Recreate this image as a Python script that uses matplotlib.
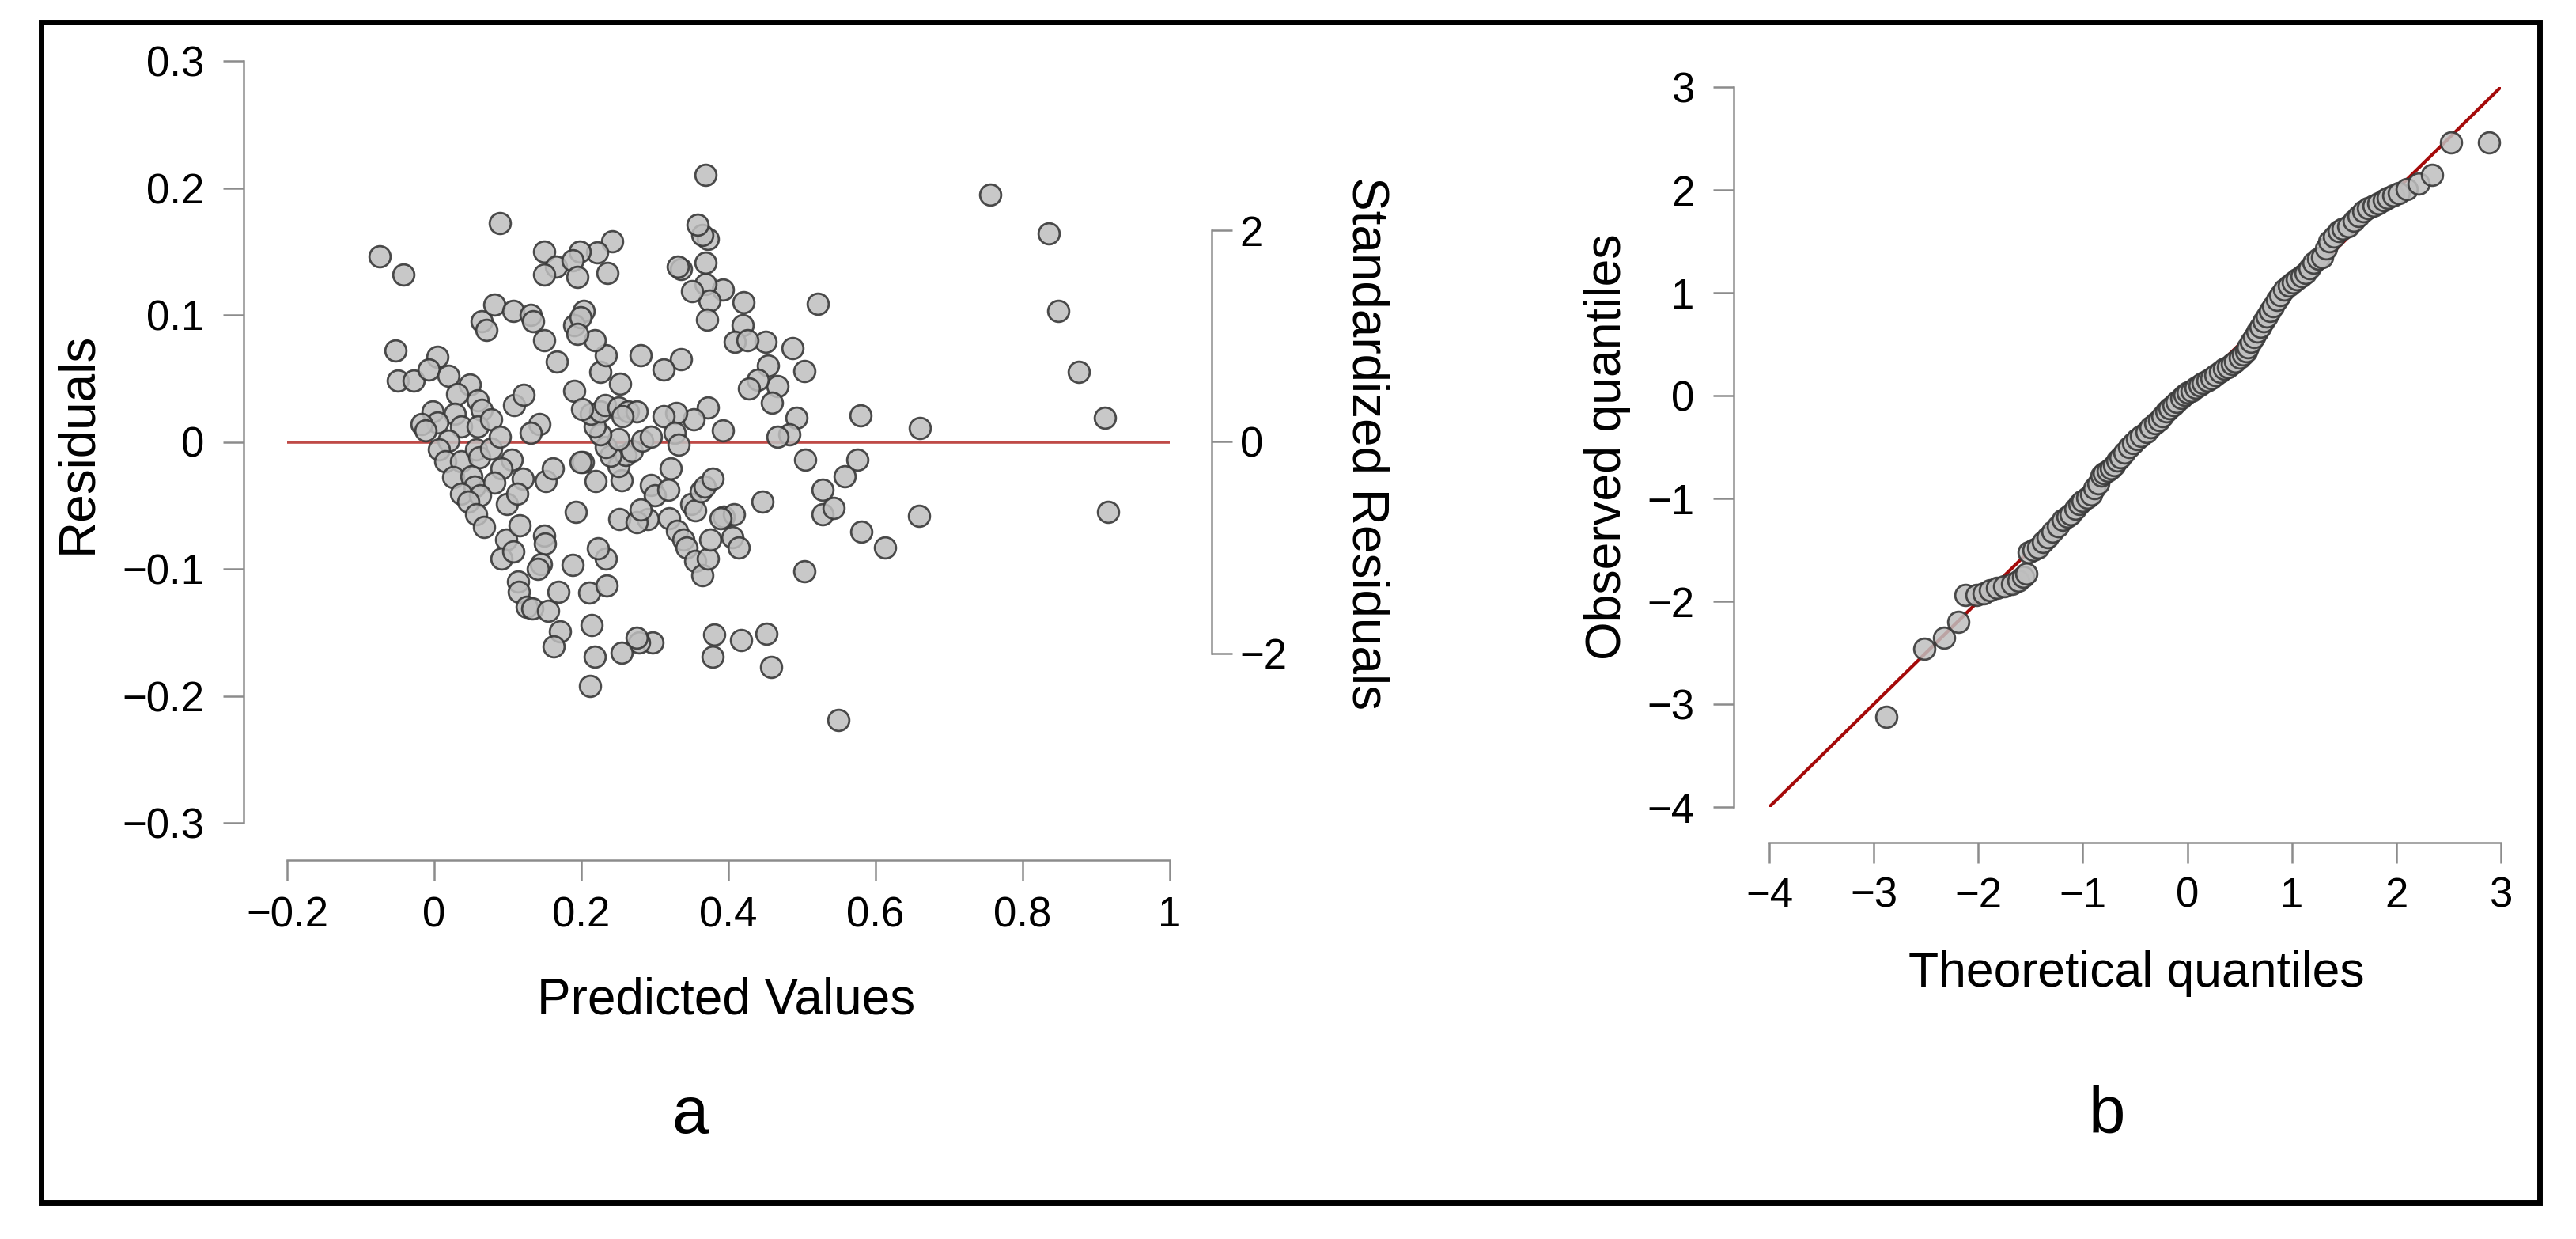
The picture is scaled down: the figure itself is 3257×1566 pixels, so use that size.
import matplotlib
matplotlib.use("Agg")
import matplotlib.pyplot as plt
from matplotlib.patches import Rectangle

plt.rcParams['font.family'] = ['Liberation Sans', 'DejaVu Sans']

# ---- data ----
# panel a: predicted values vs residuals
pred = [
    -0.074, 0.089, 0.369, 0.756, 0.836, 0.848, 0.876, 0.912, 0.916, 0.522,
    0.660, 0.659, 0.580, 0.575, 0.581, 0.613, 0.549, 0.503, 0.504, 0.528,
    0.528, 0.543, 0.558, 0.503, 0.487, 0.492, 0.483, 0.467, 0.467, 0.459,
    0.454, 0.451, 0.446, 0.452, 0.458, 0.417, 0.381, 0.379, 0.420, 0.419,
    0.409, 0.426, 0.440, 0.428, 0.393, 0.369, 0.374, 0.371, 0.369, 0.372,
    0.364, 0.358, 0.350, 0.335, 0.331, 0.335, 0.312, 0.281, 0.372, 0.393,
    0.353, 0.329, 0.312, 0.327, 0.332, 0.321, 0.295, 0.300, 0.318, 0.290,
    0.319, 0.330, 0.339, 0.343, 0.355, 0.365, 0.372, 0.375, 0.349, 0.355,
    0.362, 0.368, 0.379, 0.394, 0.407, 0.405, 0.414, 0.389, 0.297, 0.279,
    0.275, 0.255, 0.218, 0.212, 0.214, 0.211, 0.234, 0.233, 0.223, 0.252,
    0.275, 0.281, 0.219, 0.255, 0.250, 0.260, 0.269, 0.240, 0.233, 0.250,
    0.226, 0.218, 0.213, 0.226, 0.232, 0.250, 0.263, 0.275, 0.256, 0.283,
    0.295, 0.253, 0.226, 0.233, 0.218, 0.236, 0.242, 0.222, 0.198, 0.149,
    0.166, 0.188, 0.203, 0.114, 0.115, 0.126, 0.133, 0.155, 0.171, 0.162,
    0.169,
    -0.042, -0.053, -0.050, -0.028, 0.004, -0.008, 0.019, 0.048, 0.031, 0.059,
    0.065, -0.002, 0.028, 0.004, -0.017, -0.012, 0.037, 0.059, 0.077, 0.019,
    0.006, 0.015, 0.037, 0.057, 0.061, 0.077, 0.089, 0.105, 0.091, 0.026,
    0.050, 0.055, 0.082, 0.120, 0.037, 0.062, 0.046, 0.057, 0.068, 0.099,
    0.113, 0.098, 0.116, 0.091, 0.107, 0.149, 0.150, 0.145, 0.188, 0.193,
    0.152, 0.161, 0.202, 0.143, 0.131, 0.109, 0.122, 0.190, 0.201, 0.167,
    0.149, 0.064, 0.071, 0.082, 0.107, 0.131, 0.134, 0.149, 0.195, 0.190,
    0.199, 0.195, 0.199, 0.141,
]
resid = [
    0.146, 0.172, 0.210, 0.195, 0.164, 0.103, 0.055, 0.019, -0.055, 0.109,
    0.011, -0.058, 0.021, -0.014, -0.071, -0.083, -0.219, -0.102, -0.014, -0.038,
    -0.057, -0.052, -0.027, 0.056, 0.074, 0.019, 0.006, 0.004, 0.044, 0.031,
    0.060, 0.079, -0.047, -0.151, -0.177, -0.156, -0.152, -0.169, 0.110, 0.092,
    0.079, 0.080, 0.049, 0.042, 0.120, 0.124, 0.111, 0.096, 0.141, 0.160,
    0.163, 0.171, 0.119, 0.136, 0.138, 0.065, 0.057, 0.068, 0.027, 0.009,
    0.018, 0.023, 0.020, 0.007, -0.002, -0.021, -0.034, -0.042, -0.038, -0.061,
    -0.060, -0.070, -0.077, -0.083, -0.094, -0.105, -0.092, -0.077, -0.049, -0.054,
    -0.039, -0.035, -0.029, -0.059, -0.057, -0.075, -0.083, -0.060, -0.158, -0.158,
    -0.154, -0.166, -0.169, -0.192, -0.144, -0.119, -0.113, -0.092, -0.084, -0.061,
    -0.063, -0.053, -0.031, -0.030, -0.019, -0.010, -0.007, -0.011, -0.004, 0.002,
    0.006, 0.012, 0.022, 0.024, 0.029, 0.027, 0.024, 0.024, 0.020, 0.001,
    0.004, 0.046, 0.055, 0.068, 0.080, 0.133, 0.158, 0.149, 0.150, 0.150,
    0.138, 0.143, 0.103, -0.110, -0.118, -0.130, -0.131, -0.133, -0.149, -0.161,
    -0.118,
    0.132, 0.072, 0.048, 0.048, 0.067, 0.057, 0.052, 0.045, 0.038, 0.033,
    0.025, 0.024, 0.022, 0.015, 0.014, 0.009, 0.012, 0.012, 0.018, 0.001,
    -0.006, -0.015, -0.015, -0.006, -0.012, -0.005, 0.004, -0.014, -0.021, -0.028,
    -0.027, -0.035, -0.032, -0.029, -0.041, -0.042, -0.047, -0.057, -0.067, -0.049,
    -0.041, -0.077, -0.066, -0.092, -0.086, -0.074, -0.080, -0.096, -0.097, -0.055,
    -0.031, -0.021, -0.016, 0.014, 0.007, 0.029, 0.037, 0.040, 0.026, 0.063,
    0.080, 0.095, 0.088, 0.108, 0.103, 0.100, 0.095, 0.132, 0.130, 0.092,
    0.098, 0.085, -0.016, -0.100,
]

# panel b: normal Q-Q plot (theoretical, observed)
theo = [
    -2.88, -2.52, -2.33, -2.19, -2.12, -2.02, -1.95, -1.89, -1.82, -1.75,
    -1.68, -1.62, -1.57, -1.54, -1.52, -1.47, -1.43, -1.38, -1.34, -1.29,
    -1.24, -1.19, -1.15, -1.12, -1.07, -1.03, -1.00, -0.96, -0.92, -0.89,
    -0.85, -0.82, -0.80, -0.76, -0.73, -0.70, -0.67, -0.64, -0.60, -0.56,
    -0.52, -0.48, -0.44, -0.39, -0.35, -0.31, -0.27, -0.24, -0.20, -0.17,
    -0.13, -0.10, -0.06, -0.03, 0.00, 0.04, 0.08, 0.12, 0.15, 0.19,
    0.23, 0.27, 0.31, 0.35, 0.39, 0.43, 0.46, 0.50, 0.53, 0.56,
    0.58, 0.61, 0.64, 0.67, 0.70, 0.73, 0.76, 0.79, 0.82, 0.86,
    0.89, 0.93, 0.97, 1.01, 1.05, 1.09, 1.13, 1.17, 1.21, 1.25,
    1.29, 1.33, 1.36, 1.40, 1.45, 1.49, 1.54, 1.59, 1.64, 1.68,
    1.73, 1.78, 1.83, 1.88, 1.92, 1.97, 2.02, 2.10, 2.21, 2.34,
    2.52, 2.89,
]
obs = [
    -3.12, -2.46, -2.35, -2.20, -1.94, -1.94, -1.92, -1.89, -1.87, -1.85,
    -1.83, -1.80, -1.76, -1.73, -1.52, -1.50, -1.48, -1.42, -1.38, -1.32,
    -1.27, -1.21, -1.18, -1.15, -1.10, -1.05, -1.02, -0.99, -0.96, -0.90,
    -0.85, -0.78, -0.75, -0.73, -0.71, -0.68, -0.63, -0.60, -0.55, -0.50,
    -0.46, -0.42, -0.39, -0.35, -0.31, -0.27, -0.24, -0.20, -0.15, -0.12,
    -0.09, -0.06, -0.02, 0.01, 0.03, 0.05, 0.08, 0.10, 0.12, 0.15,
    0.17, 0.20, 0.23, 0.26, 0.28, 0.31, 0.33, 0.37, 0.40, 0.43,
    0.47, 0.52, 0.57, 0.62, 0.67, 0.72, 0.77, 0.82, 0.87, 0.93,
    0.98, 1.03, 1.07, 1.10, 1.13, 1.16, 1.19, 1.24, 1.29, 1.33,
    1.35, 1.43, 1.50, 1.55, 1.60, 1.62, 1.65, 1.70, 1.75, 1.79,
    1.82, 1.85, 1.87, 1.90, 1.92, 1.95, 1.97, 2.01, 2.06, 2.15,
    2.46, 2.46,
]

res_ticks = [-0.3, -0.2, -0.1, 0, 0.1, 0.2, 0.3]
res_labels = ['\u22120.3', '\u22120.2', '\u22120.1', '0', '0.1', '0.2', '0.3']
pred_ticks = [-0.2, 0, 0.2, 0.4, 0.6, 0.8, 1]
pred_labels = ['\u22120.2', '0', '0.2', '0.4', '0.6', '0.8', '1']
std_ticks = [-2, 0, 2]
std_labels = ['\u22122', '0', '2']
resid_sd = 0.0832   # residual units per standardized unit (right axis)
qq_ticks_x = [-4, -3, -2, -1, 0, 1, 2, 3]
qq_ticks_y = [-4, -3, -2, -1, 0, 1, 2, 3]

# ---- layout helpers (pixels of a 3257x1566 canvas) ----
W, H = 3257, 1566
PT = 0.72  # points per pixel at dpi 100


def box(l, r, t, b):
    return [l / W, 1 - b / H, (r - l) / W, (b - t) / H]


def style_axis(ax, xoff, yoff, lsize=38, xpad=14, ypad=17):
    for s in ['top', 'right']:
        ax.spines[s].set_visible(False)
    for s, off in [('left', yoff), ('bottom', xoff)]:
        ax.spines[s].set_position(('outward', off * PT))
        ax.spines[s].set_color('#8c8c8c')
        ax.spines[s].set_linewidth(1.8)
    ax.tick_params(axis='both', colors='#8c8c8c', length=26 * PT, width=1.8,
                   labelsize=lsize, labelcolor='black')
    ax.tick_params(axis='x', pad=xpad)
    ax.tick_params(axis='y', pad=ypad)
    ax.patch.set_visible(False)


fig = plt.figure(figsize=(W / 100, H / 100), dpi=100)

mfc = (0.75, 0.75, 0.75, 0.85)
mec = (0.22, 0.22, 0.22, 0.9)
msize = 370

# ---- panel a ----
ax1 = fig.add_axes(box(363, 1479, 77, 1040))
ax1.axhline(0, color='#bf4a47', lw=2.6, zorder=1)
ax1.scatter(pred, resid, s=msize, facecolor=mfc, edgecolor=mec, linewidths=2.0,
            zorder=2, clip_on=False)
ax1.set_xlim(-0.2, 1)
ax1.set_ylim(-0.3, 0.3)
ax1.set_xticks(pred_ticks)
ax1.set_xticklabels(pred_labels)
ax1.set_yticks(res_ticks)
ax1.set_yticklabels(res_labels)
style_axis(ax1, 47, 55)
ax1.spines['left'].set_bounds(-0.3, 0.3)
ax1.spines['bottom'].set_bounds(-0.2, 1)

ax1b = ax1.twinx()
lim = 0.3 / resid_sd
ax1b.set_ylim(-lim, lim)
for s in ['top', 'left', 'bottom']:
    ax1b.spines[s].set_visible(False)
ax1b.spines['right'].set_position(('outward', 53 * PT))
ax1b.spines['right'].set_color('#8c8c8c')
ax1b.spines['right'].set_linewidth(1.8)
ax1b.spines['right'].set_bounds(-2, 2)
ax1b.set_yticks(std_ticks)
ax1b.set_yticklabels(std_labels)
ax1b.tick_params(axis='y', colors='#8c8c8c', length=26 * PT, width=1.8,
                 labelsize=38, labelcolor='black', pad=7)

fig.text(98 / W, 1 - 560 / H, 'Residuals', rotation=90, fontsize=46,
         ha='center', va='center')
fig.text(918 / W, 1 - 1265 / H, 'Predicted Values', fontsize=46,
         ha='center', va='center')
fig.text(1728 / W, 1 - 560 / H, 'Standardized Residuals', rotation=270,
         fontsize=46, ha='center', va='center')
fig.text(873 / W, 1 - 1410 / H, 'a', fontsize=60, ha='center', va='center')

# ---- panel b ----
ax2 = fig.add_axes(box(2237, 3162, 110, 1020))
ax2.set_xlim(-4, 3)
ax2.set_ylim(-4, 3)
ax2.axline((0, 0), slope=1, color='#a50a0a', lw=3.0, zorder=1)
ax2.scatter(theo, obs, s=msize, facecolor=mfc, edgecolor=mec, linewidths=2.0,
            zorder=2, clip_on=False)
ax2.set_xticks(qq_ticks_x)
ax2.set_yticks(qq_ticks_y)
style_axis(ax2, 45, 45, xpad=12, ypad=17)
ax2.spines['left'].set_bounds(-4, 3)
ax2.spines['bottom'].set_bounds(-4, 3)

fig.text(2032 / W, 1 - 565 / H, 'Observed quantiles', rotation=90,
         fontsize=45, ha='center', va='center')
fig.text(2701 / W, 1 - 1230 / H, 'Theoretical quantiles', fontsize=45,
         ha='center', va='center')
fig.text(2664 / W, 1 - 1410 / H, 'b', fontsize=60, ha='center', va='center')

# outer frame
fig.patches.append(Rectangle((52 / W, 1 - 1520 / H), (3211 - 52) / W,
                             (1520 - 28) / H, transform=fig.transFigure,
                             fill=False, edgecolor='black', lw=5))

fig.savefig('out.png', dpi=100)
